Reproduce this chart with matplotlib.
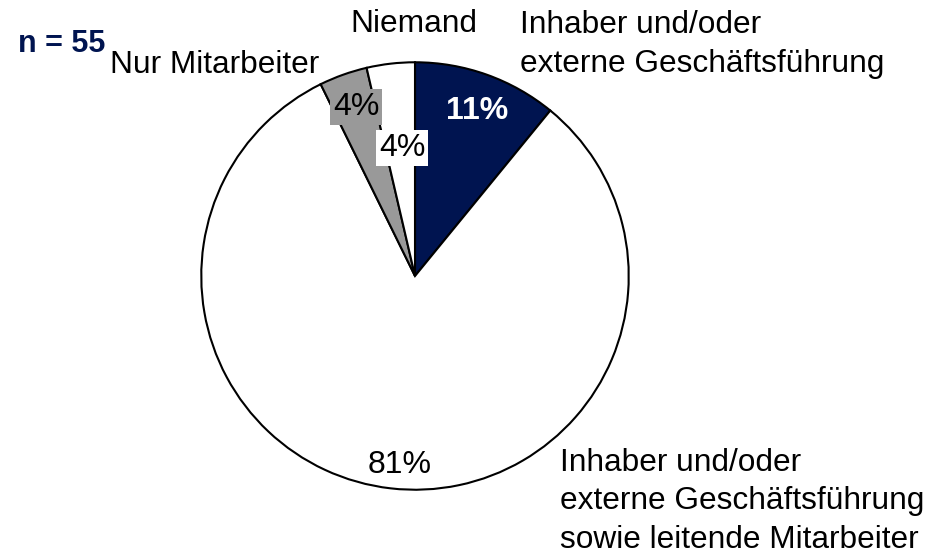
import matplotlib.pyplot as plt

plt.rcParams['font.family'] = ['Liberation Sans', 'DejaVu Sans']

# Anzahl Nennungen (n = 55)
anzahl = [6, 45, 2, 2]
prozent = ['11%', '81%', '4%', '4%']
farben = ['#001450', 'white', '#999999', 'white']
kategorien = ['Inhaber und/oder\nexterne Geschäftsführung',
              'Inhaber und/oder\nexterne Geschäftsführung\nsowie leitende Mitarbeiter',
              'Nur Mitarbeiter',
              'Niemand']

W, H = 929, 554
fig = plt.figure(figsize=(W / 100, H / 100), dpi=100)
# Torte: Mitte (415, 276), Radius 218 px
ax = fig.add_axes([(415 - 218) / W, (H - 276 - 218) / H, 436 / W, 436 / H])
ax.pie(anzahl, colors=farben, startangle=90, counterclock=False, radius=1,
       wedgeprops={'edgecolor': 'black', 'linewidth': 1.5})
ax.set_xlim(-1.02, 1.02)
ax.set_ylim(-1.02, 1.02)
ax.set_aspect('equal')
ax.axis('off')

# Prozentwerte
pfs = 23
ax.text(0.29, 0.77, prozent[0], color='white', fontsize=pfs, fontweight='bold', ha='center', va='center')
ax.text(-0.07, -0.885, prozent[1], color='black', fontsize=pfs, ha='center', va='center')
ax.text(-0.275, 0.79, prozent[2], color='black', fontsize=pfs, ha='center', va='center',
        bbox=dict(facecolor='#999999', edgecolor='none', pad=2))
ax.text(-0.06, 0.60, prozent[3], color='black', fontsize=pfs, ha='center', va='center',
        bbox=dict(facecolor='white', edgecolor='none', pad=2))

def px(x, y):
    return x / W, 1 - y / H

fs = 22.8
fig.text(*px(520, 10), kategorien[0], fontsize=fs, ha='left', va='top', linespacing=1.38)
fig.text(*px(560, 448), kategorien[1], fontsize=fs, ha='left', va='top', linespacing=1.36)
fig.text(*px(215, 65), kategorien[2], fontsize=fs, ha='center', va='center')
fig.text(*px(414, 24), kategorien[3], fontsize=fs, ha='center', va='center')
fig.text(*px(18, 44), 'n = 55', fontsize=22, fontweight='bold', color='#001450', ha='left', va='center')

plt.savefig('out.png', dpi=100)
plt.close()
